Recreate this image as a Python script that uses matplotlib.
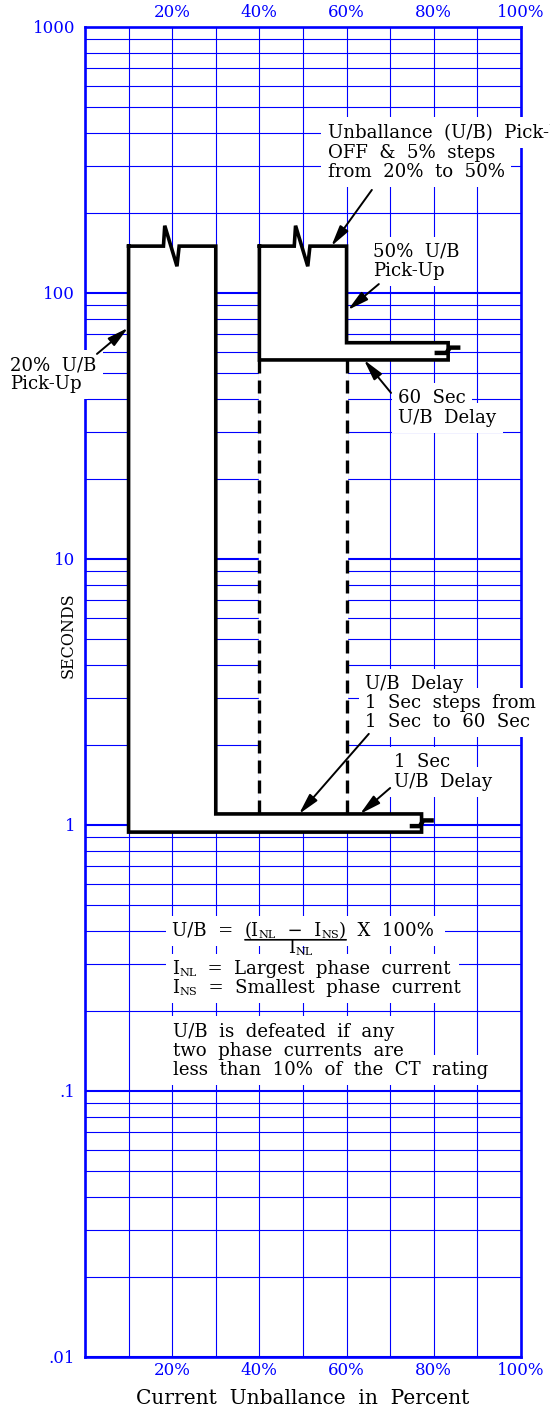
import numpy as np
import matplotlib
matplotlib.use('agg')
import matplotlib.pyplot as plt
from matplotlib.ticker import LogLocator, NullFormatter

plt.rcParams['font.family'] = ['DejaVu Serif']

BLUE = '#0000ff'

# axis values
pct_ticks = [0, 10, 20, 30, 40, 50, 60, 70, 80, 90, 100]
pct_labels = ['', '', '20%', '', '40%', '', '60%', '', '80%', '', '100%']
sec_ticks = [0.01, 0.1, 1, 10, 100, 1000]
sec_labels = ['.01', '.1', '1', '10', '100', '1000']

# 20% pick-up curve (with break on the top edge)
pick20_x = [10, 18, 18.3, 21.1, 21.6, 30, 30, 77.2, 77.2, 10, 10]
pick20_s = [150, 150, 179, 126, 150, 150, 1.1, 1.1, 0.94, 0.94, 150]
# 50% pick-up curve
pick50_x = [40, 48, 48.3, 51.1, 51.6, 60, 60, 83.3, 83.3, 40, 40]
pick50_s = [150, 150, 179, 126, 150, 150, 65, 65, 56, 56, 150]
# delay band between the two pick-ups
band_x = [40, 60, 60, 40]
band_s = [56, 56, 1.1, 1.1]
dash_x = [40, 60]
dash_s = [56, 1.1]
# break marks at the right ends
brk1_x = [75, 76.8, 77.6, 79.5]
brk1_s = [0.99, 0.99, 1.04, 1.04]
brk2_x = [80.7, 82.9, 83.7, 85.6]
brk2_s = [59.5, 59.5, 62.3, 62.3]

# notes: x, list of y, lines
notes = [
    (55.7, [400, 336, 285], ['Unballance  (U/B)  Pick-Up', 'OFF  &  5%  steps', 'from  20%  to  50%']),
    (66.1, [142.6, 121], ['50%  U/B', 'Pick-Up']),
    (71.8, [40.3, 33.9], ['60  Sec', 'U/B  Delay']),
    (-17.2, [53.6, 45.5], ['20%  U/B', 'Pick-Up']),
    (64.2, [3.39, 2.874, 2.438], ['U/B  Delay', '1  Sec  steps  from', '1  Sec  to  60  Sec']),
    (70.9, [1.725, 1.451], ['1  Sec', 'U/B  Delay']),
    (20.2, [0.167, 0.1414, 0.12], ['U/B  is  defeated  if  any', 'two  phase  currents  are',
                                   'less  than  10%  of  the  CT  rating']),
]
# arrows: tail x, tail s, tip x, tip s
arrows = [
    (65.8, 244, 56.5, 150),
    (67.4, 108, 60.3, 86.3),
    (70.2, 42.1, 64.0, 56),
    (2.75, 59, 9.86, 73.9),
    (65.1, 2.2, 49.1, 1.1),
    (70.0, 1.377, 63.1, 1.1),
]

FS = 13.1

fig = plt.figure(figsize=(5.5, 14.12), dpi=100)
ax = fig.add_axes([0.1545, 0.0390, 0.7927, 0.9419])
ax.set_xlim(0, 100)
ax.set_yscale('log')
ax.set_ylim(0.01, 1000)

ax.set_xticks(pct_ticks, pct_labels)
ax.set_yticks(sec_ticks, sec_labels)
ax.yaxis.set_minor_locator(LogLocator(base=10, subs=np.arange(2, 10)))
ax.yaxis.set_minor_formatter(NullFormatter())
ax.tick_params(which='both', length=0)
ax.tick_params(axis='x', top=True, labeltop=True, labelcolor=BLUE, labelsize=12, pad=4)
ax.tick_params(axis='y', labelcolor=BLUE, labelsize=12, pad=7)

ax.grid(True, which='major', axis='y', color=BLUE, lw=1.5)
ax.grid(True, which='minor', axis='y', color=BLUE, lw=0.8)
ax.grid(True, which='major', axis='x', color=BLUE, lw=0.8)
for sp in ax.spines.values():
    sp.set_color(BLUE)
    sp.set_linewidth(1.9)

# white fills hide the grid inside the curves
ax.fill(pick20_x, pick20_s, color='white', zorder=2)
ax.fill(pick50_x, pick50_s, color='white', zorder=2)
ax.fill(band_x, band_s, color='white', zorder=2)

ax.plot(pick20_x, pick20_s, color='black', lw=2.6, zorder=3, solid_joinstyle='miter')
ax.plot(pick50_x, pick50_s, color='black', lw=2.6, zorder=3, solid_joinstyle='miter')
for xd in dash_x:
    ax.plot([xd, xd], dash_s, color='black', lw=2.4, dashes=(3.9, 2.1), zorder=3)
ax.plot(brk1_x, brk1_s, color='black', lw=3.2, zorder=4)
ax.plot(brk2_x, brk2_s, color='black', lw=3.2, zorder=4)

box = dict(boxstyle='square,pad=0.35', facecolor='white', edgecolor='none')

# every line gets its own white backing, drawn under all the texts
for x, ys, lines in notes:
    for y, s in zip(ys, lines):
        ax.text(x, y, s, fontsize=FS, color='white', ha='left', va='center', bbox=box, zorder=5)
        ax.text(x, y, s, fontsize=FS, ha='left', va='center', zorder=6)

for tx, ts, hx, hs in arrows:
    ax.annotate('', xy=(hx, hs), xytext=(tx, ts), zorder=7,
                arrowprops=dict(arrowstyle='-|>,head_length=0.9,head_width=0.22',
                                color='black', lw=1.4, shrinkA=0, shrinkB=0,
                                mutation_scale=14))


def row(x, y, pieces, ha='left'):
    # pieces of text, small ones are the NL / NS letters
    prev = None
    out = []
    for s, small in pieces:
        fs = FS * 0.62 if small else FS
        if prev is None:
            t = ax.text(x, y, s, fontsize=fs, ha=ha, va='center', zorder=8)
        else:
            t = ax.annotate(s, xy=(1, 0), xycoords=prev, fontsize=fs,
                            ha='left', va='bottom', zorder=8)
        prev = t
        out.append(t)
    return out


# formula block, white backing first
for y, s in [(0.4, 'U/B  =  (INL  -  INS)  X  100%'),
             (0.2875, 'INL  =  Largest  phase  current'),
             (0.2439, 'INS  =  Smallest  phase  current')]:
    ax.text(20, y, s, fontsize=FS * 0.97, color='white', ha='left', va='center', bbox=box, zorder=5)

f1 = row(20, 0.4, [('U/B  =  ', False), ('(I', False), ('NL', True), ('  \u2212  I', False),
                   ('NS', True), (')', False), ('  X  100%', False)])
ax.annotate('', xy=(1, 0), xycoords=f1[5], xytext=(0, 0), textcoords=f1[1], zorder=8,
            arrowprops=dict(arrowstyle='-', lw=1.2, color='black', shrinkA=0, shrinkB=0))
row(46.6, 0.345, [('I', False), ('NL', True)])
row(20, 0.2875, [('I', False), ('NL', True), ('  =  Largest  phase  current', False)])
row(20, 0.2439, [('I', False), ('NS', True), ('  =  Smallest  phase  current', False)])

ax.text(-3.8, 5.18, 'SECONDS', rotation=90, fontsize=11.5, ha='center', va='center')
ax.set_xlabel('Current  Unballance  in  Percent', fontsize=14.5)
ax.xaxis.set_label_coords(0.5, -0.031)
ax.xaxis.label.set_va('center')

fig.savefig('out.png', dpi=100)
